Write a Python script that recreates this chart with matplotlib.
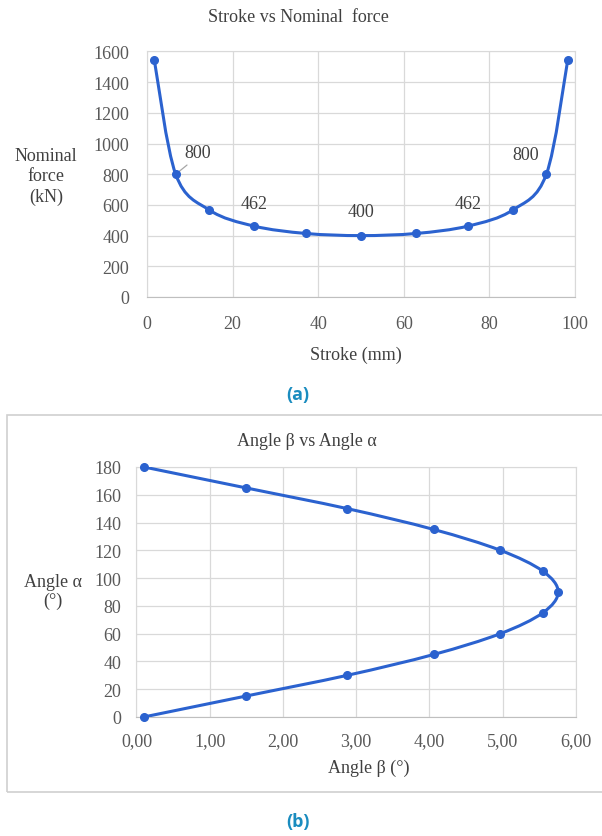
"""Stroke vs nominal force and angle beta vs angle alpha, two panels."""
import matplotlib
matplotlib.use("Agg")
import matplotlib.pyplot as plt
import numpy as np
from matplotlib.path import Path
from matplotlib.patches import PathPatch, Rectangle
from matplotlib.ticker import FuncFormatter

# panel (a)
stroke_mm = [1.7, 6.7, 14.6, 25.0, 37.1, 50.0, 62.9, 75.0, 85.4, 93.3, 98.3]
force_kn = [1545, 800, 566, 462, 414, 400, 414, 462, 566, 800, 1545]
# panel (b)
beta_deg = [0.10, 1.49, 2.88, 4.06, 4.97, 5.55, 5.76, 5.55, 4.97, 4.06, 2.88, 1.49, 0.10]
alpha_deg = [180, 165, 150, 135, 120, 105, 90, 75, 60, 45, 30, 15, 0]

LINE = "#2b62cf"
GRID = "#d9d9d9"
TXT = "#404040"
TICK = "#595959"
SERIF = "Liberation Serif"


def smooth_path(xs, ys):
    # Excel-style smoothed line: cubic beziers through every point
    p = np.column_stack([xs, ys]).astype(float)
    n = len(p)
    verts = [p[0]]
    codes = [Path.MOVETO]
    for i in range(n - 1):
        prev = p[i - 1] if i > 0 else p[i]
        nxt = p[i + 2] if i + 2 < n else p[i + 1]
        c1 = p[i] + (p[i + 1] - prev) / 6.0
        c2 = p[i + 1] - (nxt - p[i]) / 6.0
        verts += [c1, c2, p[i + 1]]
        codes += [Path.CURVE4] * 3
    return Path(verts, codes)


def style_axes(ax, xpad, ypad):
    ax.grid(True, color=GRID, linewidth=0.9)
    ax.set_axisbelow(True)
    for side in ["top", "right", "left"]:
        ax.spines[side].set_color(GRID)
    ax.spines["bottom"].set_color("#bfbfbf")
    ax.tick_params(length=0, labelsize=13, labelcolor=TICK)
    ax.tick_params(axis="x", pad=xpad)
    ax.tick_params(axis="y", pad=ypad)
    for lab in ax.get_xticklabels() + ax.get_yticklabels():
        lab.set_fontfamily(SERIF)


fig = plt.figure(figsize=(6.02, 8.37), dpi=100)

# ---- (a) ----
ax1 = fig.add_axes([0.2442, 0.6440, 0.7110, 0.2933])
ax1.set_xlim(0, 100)
ax1.set_ylim(0, 1600)
ax1.set_xticks(np.arange(0, 101, 20))
ax1.set_yticks(np.arange(0, 1601, 200))
style_axes(ax1, 13, 13)
ax1.add_patch(PathPatch(smooth_path(stroke_mm, force_kn), fill=False,
                        edgecolor=LINE, linewidth=2.2, zorder=3))
ax1.plot(stroke_mm, force_kn, "o", color=LINE, markersize=5.5, zorder=4,
         clip_on=False)

ax1.annotate("800", xy=(stroke_mm[1], force_kn[1]), xytext=(16, 16),
             textcoords="offset points", fontsize=13, family=SERIF, color=TXT,
             ha="center", va="center",
             arrowprops=dict(arrowstyle="-", color="#a6a6a6", lw=0.9,
                             shrinkA=2, shrinkB=2, relpos=(0.3, 0.0)))
ax1.annotate("800", xy=(stroke_mm[9], force_kn[9]), xytext=(-15, 14),
             textcoords="offset points", fontsize=13, family=SERIF, color=TXT,
             ha="center", va="center")
for i, off in [(3, 16), (5, 17), (7, 16)]:
    ax1.annotate(str(force_kn[i]), xy=(stroke_mm[i], force_kn[i]),
                 xytext=(0, off), textcoords="offset points", fontsize=13,
                 family=SERIF, color=TXT, ha="center", va="center")

fig.text(298 / 602, 1 - 17 / 837, "Stroke vs Nominal  force", fontsize=13,
         family=SERIF, color=TXT, ha="center", va="center")
fig.text(356 / 602, 1 - 355 / 837, "Stroke (mm)", fontsize=13,
         family=SERIF, color=TXT, ha="center", va="center")
fig.text(46 / 602, 1 - 177 / 837, "Nominal\nforce\n(kN)", fontsize=13,
         family=SERIF, color=TXT, ha="center", va="center", linespacing=1.25)
fig.text(298 / 602, 1 - 395 / 837, "(a)", fontsize=13, family="Open Sans",
         weight="bold", color="#1a8cbf", ha="center", va="center")

# ---- (b) ----
fig.patches.append(Rectangle((7 / 602, 1 - 793 / 837), 620 / 602, 377 / 837,
                             transform=fig.transFigure, fill=False,
                             edgecolor="#d0d0d0", linewidth=1.2))
ax2 = fig.add_axes([0.2267, 0.1422, 0.7297, 0.2987])
ax2.set_xlim(0, 6)
ax2.set_ylim(0, 180)
ax2.set_xticks(np.arange(0, 7, 1))
ax2.set_yticks(np.arange(0, 181, 20))
ax2.xaxis.set_major_formatter(FuncFormatter(lambda v, _: f"{v:.2f}".replace(".", ",")))
style_axes(ax2, 11, 11)
ax2.add_patch(PathPatch(smooth_path(beta_deg, alpha_deg), fill=False,
                        edgecolor=LINE, linewidth=2.2, zorder=3))
ax2.plot(beta_deg, alpha_deg, "o", color=LINE, markersize=5.5, zorder=4,
         clip_on=False)

fig.text(307 / 602, 1 - 442 / 837, "Angle β vs Angle α", fontsize=13,
         family=SERIF, color=TXT, ha="center", va="center")
fig.text(369 / 602, 1 - 768 / 837, "Angle β (°)", fontsize=13,
         family=SERIF, color=TXT, ha="center", va="center")
fig.text(53 / 602, 1 - 592 / 837, "Angle α\n(°)", fontsize=13,
         family=SERIF, color=TXT, ha="center", va="center", linespacing=1.2)
fig.text(298 / 602, 1 - 822 / 837, "(b)", fontsize=13, family="Open Sans",
         weight="bold", color="#1a8cbf", ha="center", va="center")

fig.savefig("out.png", dpi=100, facecolor="white")
